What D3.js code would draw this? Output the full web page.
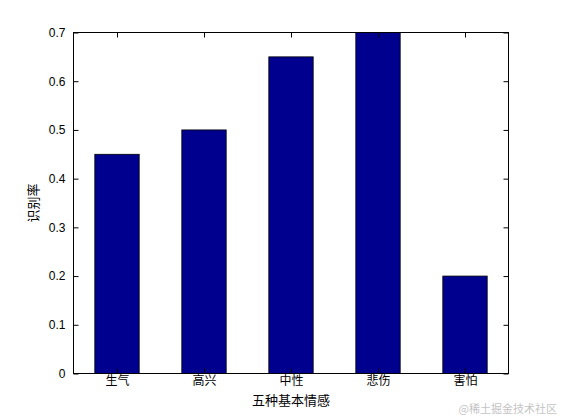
<!DOCTYPE html>
<html><head><meta charset="utf-8">
<script src="https://cdn.jsdelivr.net/npm/d3@7"></script>
<style>body{margin:0;background:#fff;} svg{display:block;}</style>
</head><body>
<svg id="c" width="561" height="420"></svg>
<script>
const categories = ["生气", "高兴", "中性", "悲伤", "害怕"];
const values = [0.45, 0.5, 0.65, 0.7, 0.2];
const yTicks = [0, 0.1, 0.2, 0.3, 0.4, 0.5, 0.6, 0.7];
const xTitle = "五种基本情感";
const yTitle = "识别率";
const watermark = "@稀土掘金技术社区";

const svg = d3.select("#c");
const m = {left: 73.5, right: 508.5, top: 32.5, bottom: 373.5};
const x = d3.scaleBand().domain(categories).range([m.left, m.right]).paddingInner(0.49).paddingOuter(0.245);
const xc = d3.scalePoint().domain(categories).range([m.left, m.right]).padding(0.5);
const y = d3.scaleLinear().domain([0, 0.7]).range([m.bottom, m.top]);
const tickFont = "'Liberation Sans', Arial, sans-serif";
const cjk = "'Noto Sans CJK SC', sans-serif";

// bars
svg.append("g").selectAll("rect").data(values).join("rect")
  .attr("x", (d, i) => x(categories[i]))
  .attr("width", x.bandwidth())
  .attr("y", d => y(d))
  .attr("height", d => y(0) - y(d))
  .attr("fill", "#00008f")
  .attr("stroke", "#000").attr("stroke-width", 0.8);

// frame
svg.append("rect").attr("x", m.left).attr("y", m.top)
  .attr("width", m.right - m.left).attr("height", m.bottom - m.top)
  .attr("fill", "none").attr("stroke", "#000").attr("stroke-width", 1);

// axes
const yl = svg.append("g").attr("transform", `translate(${m.left},0)`)
  .call(d3.axisLeft(y).tickValues(yTicks).tickFormat(d => d === 0 ? "0" : d3.format(".1f")(d)).tickSizeInner(-5).tickSizeOuter(0).tickPadding(8));
const yr = svg.append("g").attr("transform", `translate(${m.right},0)`)
  .call(d3.axisRight(y).tickValues(yTicks).tickFormat("").tickSizeInner(-5).tickSizeOuter(0));
const xb = svg.append("g").attr("transform", `translate(0,${m.bottom})`)
  .call(d3.axisBottom(xc).tickSizeInner(-5).tickSizeOuter(0).tickPadding(3));
const xt = svg.append("g").attr("transform", `translate(0,${m.top})`)
  .call(d3.axisTop(xc).tickFormat("").tickSizeInner(-5).tickSizeOuter(0));
[yl, yr, xb, xt].forEach(g => { g.select(".domain").remove(); g.selectAll("line").attr("stroke", "#000"); });
yl.selectAll("text").attr("font-family", tickFont).attr("font-size", 12).attr("fill", "#000");
xb.selectAll("text").attr("font-family", cjk).attr("font-size", 12).attr("fill", "#000");

// titles
svg.append("text").attr("x", (m.left + m.right) / 2).attr("y", 405)
  .attr("text-anchor", "middle").attr("font-family", cjk).attr("font-size", 13).text(xTitle);
svg.append("text").attr("transform", `translate(38,${(m.top + m.bottom) / 2}) rotate(-90)`)
  .attr("text-anchor", "middle").attr("font-family", cjk).attr("font-size", 13).text(yTitle);

// watermark
svg.append("text").attr("x", 557).attr("y", 413).attr("text-anchor", "end")
  .attr("font-family", cjk).attr("font-size", 11).attr("fill", "#c4c4c4").text(watermark);
</script>
</body></html>
